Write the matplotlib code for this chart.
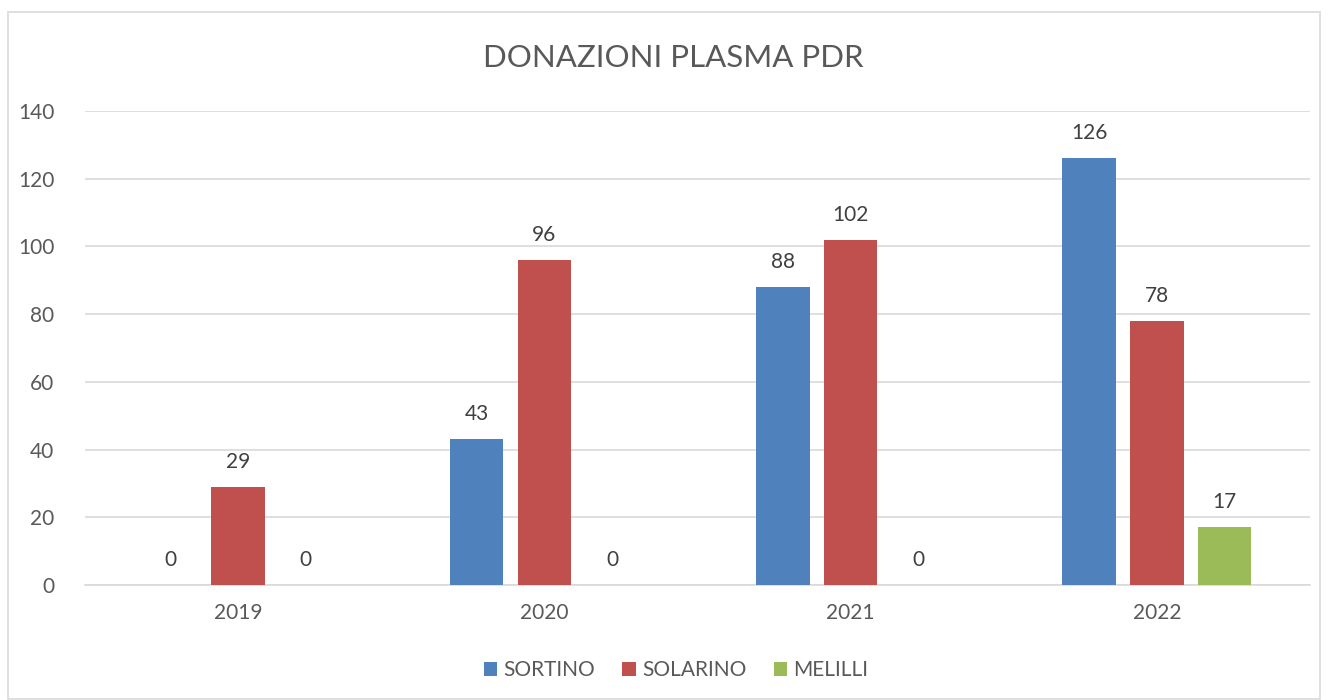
import numpy as np
import matplotlib
matplotlib.use('Agg')
import matplotlib.pyplot as plt
from matplotlib.patches import Rectangle

# Data
years = ['2019', '2020', '2021', '2022']
sortino = [0, 43, 88, 126]
solarino = [29, 96, 102, 78]
melilli = [0, 0, 0, 17]
series_names = ['SORTINO', 'SOLARINO', 'MELILLI']
colors = ['#4F81BD', '#C0504D', '#9BBB59']

plt.rcParams['font.family'] = ['Lato', 'DejaVu Sans']
text_col = '#595959'

my_dpi = 100
fig = plt.figure(figsize=(1328/my_dpi, 700/my_dpi), dpi=my_dpi, facecolor='w')
W, H = 1328, 700
ax = fig.add_axes([85/W, 1-585/H, (1310-85)/W, (585-111)/H])

# chart border
fig.patches.append(Rectangle((8/W, 1/H), (1320-8)/W, (687)/H, transform=fig.transFigure,
                             fill=False, edgecolor='#D9D9D9', linewidth=1.2))

x = np.arange(len(years))
bar_w = 0.175
step = 0.221
for i, (vals, name) in enumerate(zip([sortino, solarino, melilli], series_names)):
    pos = x + (i-1)*step
    ax.bar(pos, vals, width=bar_w, color=colors[i], label=name, zorder=3)
    for p, v in zip(pos, vals):
        ax.annotate(str(v), (p, v), xytext=(0, 25), textcoords='offset pixels',
                    ha='center', va='center', fontsize=15, color='#404040')

ax.set_xlim(-0.5, len(years)-0.5)
ax.set_ylim(0, 140)
ax.set_yticks(np.arange(0, 141, 20))
ax.set_xticks(x)
ax.set_xticklabels(years)
ax.tick_params(axis='both', length=0, labelsize=15, labelcolor=text_col)
ax.tick_params(axis='y', pad=22)
ax.tick_params(axis='x', pad=13)
ax.grid(axis='y', color='#D9D9D9', linewidth=1.2, zorder=0)
for s in ['top', 'right', 'left']:
    ax.spines[s].set_visible(False)
ax.spines['bottom'].set_color('#D9D9D9')
ax.spines['bottom'].set_linewidth(1.2)

fig.text(673/W, 1-58/H, 'DONAZIONI PLASMA PDR', ha='center', va='center',
         fontsize=22.5, color=text_col)

leg = fig.legend(loc='center', bbox_to_anchor=(676/W, 1-670/H), ncol=3, frameon=False,
                 fontsize=15, handlelength=0.65, handleheight=0.65, handletextpad=0.3,
                 columnspacing=1.3)
for t in leg.get_texts():
    t.set_color(text_col)

plt.savefig('out.png', dpi=my_dpi)
